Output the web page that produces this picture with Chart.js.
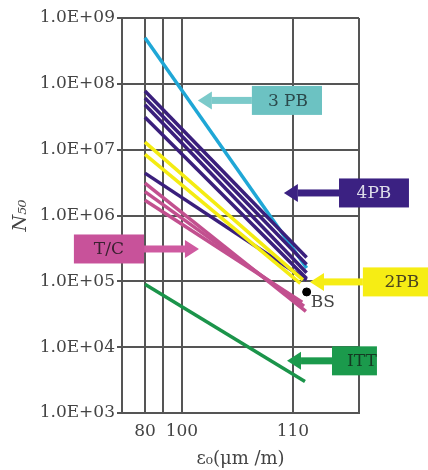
<!DOCTYPE html>
<html>
<head>
<meta charset="utf-8">
<script src="https://cdn.jsdelivr.net/npm/chart.js@4.4.1/dist/chart.umd.min.js"></script>
<style>
  html, body { margin: 0; padding: 0; background: #fff; }
  #wrap { width: 428px; height: 470px; }
</style>
</head>
<body>
<div id="wrap"><canvas id="myChart"></canvas></div>
<script>
// x axis is not linear in strain: tick positions are axis units
var xTickPos = [0, 1, 2, 8];
var xTickLabels = ['80', '', '100', '110'];
var yTicks = [1e3, 1e4, 1e5, 1e6, 1e7, 1e8, 1e9];

// S-N lines (start at 80, end near 110+)
var lineGroup = ['3 PB', '4PB', '4PB', '4PB', '4PB', '4PB', '2PB', '2PB', 'T/C', 'T/C', 'T/C', 'ITT'];
var startX = [0, 0, 0, 0, 0, 0, 0, 0, 0, 0, 0, 0];
var startN = [5.0e8, 7.8e7, 6.1e7, 4.8e7, 3.1e7, 4.4e6, 1.3e7, 8.5e6, 3.1e6, 2.3e6, 1.7e6, 9.0e4];
var endX = [8.74, 8.74, 8.74, 8.74, 8.74, 8.74, 8.54, 8.4, 8.7, 8.6, 8.5, 8.65];
var endN = [1.6e5, 2.3e5, 1.8e5, 1.35e5, 1.1e5, 1.05e5, 1.05e5, 9.3e4, 3.5e4, 4.2e4, 4.8e4, 3.0e3];

var bsX = [8.74];
var bsN = [6.9e4];

// labelled arrows
var noteLabels = ['3 PB', '4PB', 'T/C', '2PB', 'ITT'];
var noteBoxX1 = [5.78, 10.49, -3.84, 11.78, 10.11];
var noteBoxX2 = [9.57, 14.27, -0.05, 15.4, 12.54];
var noteTextX = [7.73, 12.38, -1.95, 13.89, 11.73];
var noteN = [5.6e7, 2.2e6, 3.1e5, 9.8e4, 6.2e3];
var noteTipX = [2.86, 7.51, 2.92, 8.92, 7.68];

var groupColors = {
    '3 PB': '#1fa7d6',
    '4PB': '#3a1f7c',
    '2PB': '#f4ec12',
    'T/C': '#c2508f',
    'ITT': '#1b944a'
};
var noteStyle = {
    '3 PB': { box: '#6cc2c2', arrow: '#7bcaca', text: '#2b4a4c' },
    '4PB': { box: '#3b2182', arrow: '#3b2182', text: '#dcdce8' },
    'T/C': { box: '#c8529a', arrow: '#cf5aa0', text: '#3a2030' },
    '2PB': { box: '#f6ed14', arrow: '#f6ed14', text: '#4a4420' },
    'ITT': { box: '#1b9a4c', arrow: '#1b9a4c', text: '#143a22' }
};

var datasets = [];
for (var i = 0; i < startN.length; i++) {
    datasets.push({
        label: lineGroup[i],
        data: [{ x: startX[i], y: startN[i] }, { x: endX[i], y: endN[i] }],
        borderColor: groupColors[lineGroup[i]],
        borderWidth: 3.5,
        pointRadius: 0,
        fill: false,
        order: 100 - i
    });
}
datasets.push({
    label: 'BS',
    type: 'scatter',
    data: [{ x: bsX[0], y: bsN[0] }],
    backgroundColor: '#000',
    borderColor: '#000',
    pointRadius: 4,
    order: 0
});

var notesPlugin = {
    id: 'notes',
    afterDatasetsDraw: function(chart) {
        var ctx = chart.ctx;
        var xs = chart.scales.x, ys = chart.scales.y;
        var area = chart.chartArea;
        ctx.save();
        // right frame line
        ctx.strokeStyle = '#555';
        ctx.lineWidth = 2;
        ctx.beginPath();
        ctx.moveTo(area.right, area.top);
        ctx.lineTo(area.right, area.bottom);
        ctx.stroke();

        for (var i = 0; i < noteLabels.length; i++) {
            var st = noteStyle[noteLabels[i]];
            var x1 = xs.getPixelForValue(noteBoxX1[i]);
            var x2 = xs.getPixelForValue(noteBoxX2[i]);
            var yc = ys.getPixelForValue(noteN[i]);
            var tip = xs.getPixelForValue(noteTipX[i]);
            var h = 29;
            var right = tip > x2;
            var base = right ? x2 : x1;
            var dir = right ? 1 : -1;
            var headLen = 14;
            // arrow shaft and head
            ctx.fillStyle = st.arrow;
            ctx.fillRect(Math.min(base, tip - dir * headLen), yc - 3.5, Math.abs(tip - dir * headLen - base), 7);
            ctx.beginPath();
            ctx.moveTo(tip, yc);
            ctx.lineTo(tip - dir * headLen, yc - 9);
            ctx.lineTo(tip - dir * headLen, yc + 9);
            ctx.closePath();
            ctx.fill();
            // box
            ctx.fillStyle = st.box;
            ctx.fillRect(x1, yc - h / 2, x2 - x1, h);
            ctx.save();
            ctx.beginPath();
            ctx.rect(x1, yc - h / 2, x2 - x1, h);
            ctx.clip();
            ctx.fillStyle = st.text;
            ctx.font = '17px "DejaVu Serif"';
            ctx.textAlign = 'center';
            ctx.textBaseline = 'middle';
            ctx.fillText(noteLabels[i], xs.getPixelForValue(noteTextX[i]), yc + 1);
            ctx.restore();
        }

        // BS label
        var bx = xs.getPixelForValue(bsX[0]);
        var by = ys.getPixelForValue(bsN[0]);
        ctx.fillStyle = '#444';
        ctx.font = '17px "DejaVu Serif"';
        ctx.textAlign = 'left';
        ctx.textBaseline = 'middle';
        ctx.fillText('BS', bx + 4, by + 11);
        ctx.restore();
    }
};

var ctx = document.getElementById('myChart');
var chart = new Chart(ctx, {
    type: 'line',
    data: { datasets: datasets },
    plugins: [notesPlugin],
    options: {
        responsive: true,
        maintainAspectRatio: false,
        animation: false,
        layout: { padding: { left: 0, right: 69, top: 18, bottom: 0 } },
        plugins: {
            legend: { display: false },
            tooltip: { enabled: false }
        },
        scales: {
            x: {
                type: 'linear',
                min: -1.24,
                max: 11.57,
                afterBuildTicks: function(scale) {
                    scale.ticks = xTickPos.map(function(v) { return { value: v }; });
                },
                afterFit: function(scale) { scale.height = 57; },
                ticks: {
                    autoSkip: false,
                    maxRotation: 0,
                    padding: 8,
                    color: '#444',
                    font: { family: 'DejaVu Serif', size: 17 },
                    callback: function(value, index) { return xTickLabels[index]; }
                },
                grid: { color: '#555', lineWidth: 2, drawTicks: false },
                border: { color: '#555', width: 2 },
                title: {
                    display: true,
                    text: 'ε₀(μm /m)',
                    color: '#444',
                    font: { family: 'DejaVu Serif', size: 18 },
                    padding: { top: 1, bottom: 0 }
                }
            },
            y: {
                type: 'logarithmic',
                min: 1e3,
                max: 1e9,
                afterBuildTicks: function(scale) {
                    scale.ticks = yTicks.map(function(v) { return { value: v }; });
                },
                afterFit: function(scale) { scale.width = 122; },
                ticks: {
                    autoSkip: false,
                    padding: 2,
                    color: '#444',
                    font: { family: 'DejaVu Serif', size: 17 },
                    callback: function(value) {
                        var e = Math.round(Math.log10(value));
                        return '1.0E+' + (e < 10 ? '0' + e : e);
                    }
                },
                grid: { color: '#555', lineWidth: 2, tickLength: 5, tickColor: '#555' },
                border: { color: '#555', width: 2 },
                title: {
                    display: true,
                    text: 'N₅₀',
                    color: '#444',
                    font: { family: 'DejaVu Serif', size: 19, style: 'italic' },
                    padding: { top: 10, bottom: 0 }
                }
            }
        }
    }
});
</script>
</body>
</html>
